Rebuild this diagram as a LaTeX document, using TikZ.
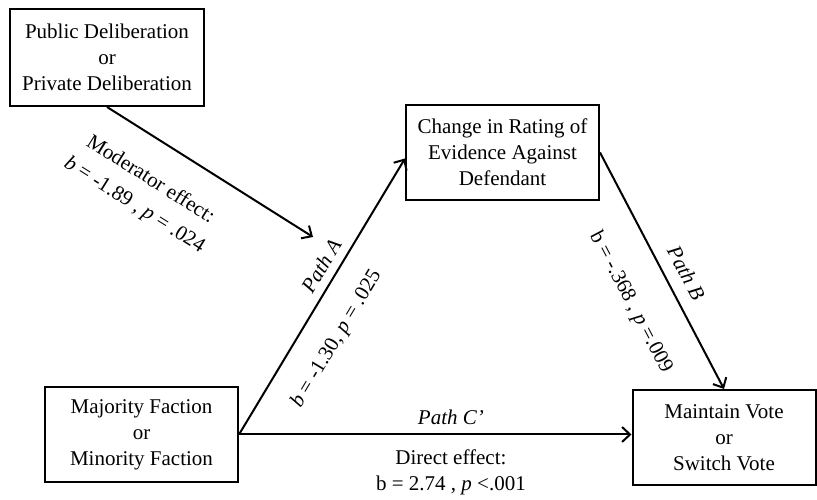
\documentclass[tikz,border=0pt]{standalone}
\usepackage{fontspec}
\setmainfont{Liberation Serif}
\usetikzlibrary{arrows.meta}

\begin{document}
\begin{tikzpicture}
[
	x=1pt, y=1pt,
	font=\fontsize{21}{26}\selectfont,
% Box style
	box/.style={
		draw,
		line width=2pt,
		align=center,
		inner sep=0pt,
		minimum width=193pt,
		minimum height=95pt},
% Path with arrow style
	pathline/.style={
		line width=2pt,
		-{Straight Barb[length=8pt,width=15pt]}},
% Coefficient label style
	coef/.style={
		sloped,
		align=center,
		inner xsep=0pt},
]

\useasboundingbox (0,0) rectangle (817,500);

% Variable boxes
\node[box, minimum width=194pt, minimum height=97pt] (delib) at (107,442.5)
	{Public Deliberation\\or\\Private Deliberation};

\node[box] (rating) at (502.5,347.5)
	{Change in Rating of\\Evidence Against\\Defendant};

\node[box] (faction) at (141.5,65.5)
	{Majority Faction\\or\\Minority Faction};

\node[box, minimum width=183pt] (vote) at (724,62.5)
	{Maintain Vote\\or\\Switch Vote};

% Moderator arrow
\coordinate (modtip) at (313,263);
\draw [pathline] (delib.south) -- (modtip)
	node [coef, pos=.31, below, inner ysep=28pt]
	{Moderator effect:\\[4pt]\textit{b} = -1.89 , \textit{p} = .024};

% Path A
\draw [pathline] (faction.east) -- ([yshift=-6pt]rating.west)
	node [coef, pos=.58, above, inner ysep=8pt] {\textit{Path A}}
	node [coef, pos=.41, below, inner ysep=24pt]
	{\textit{b} = -1.30, \textit{p} = .025};

% Path B
\draw [pathline] (rating.east) -- (vote.north)
	node [coef, pos=.55, above, inner ysep=12pt] {\textit{Path B}}
	node [coef, pos=.55, below, inner ysep=32pt]
	{b = -.368 , \textit{p} =.009};

% Path C'
\draw [pathline] (faction.east) -- (faction.east -| vote.west)
	node [pos=.54, above, inner ysep=9pt] {\textit{Path C’}}
	node [pos=.54, below, align=center, inner ysep=14pt]
	{Direct effect:\\b = 2.74 , \textit{p} <.001};

\end{tikzpicture}
\end{document}
